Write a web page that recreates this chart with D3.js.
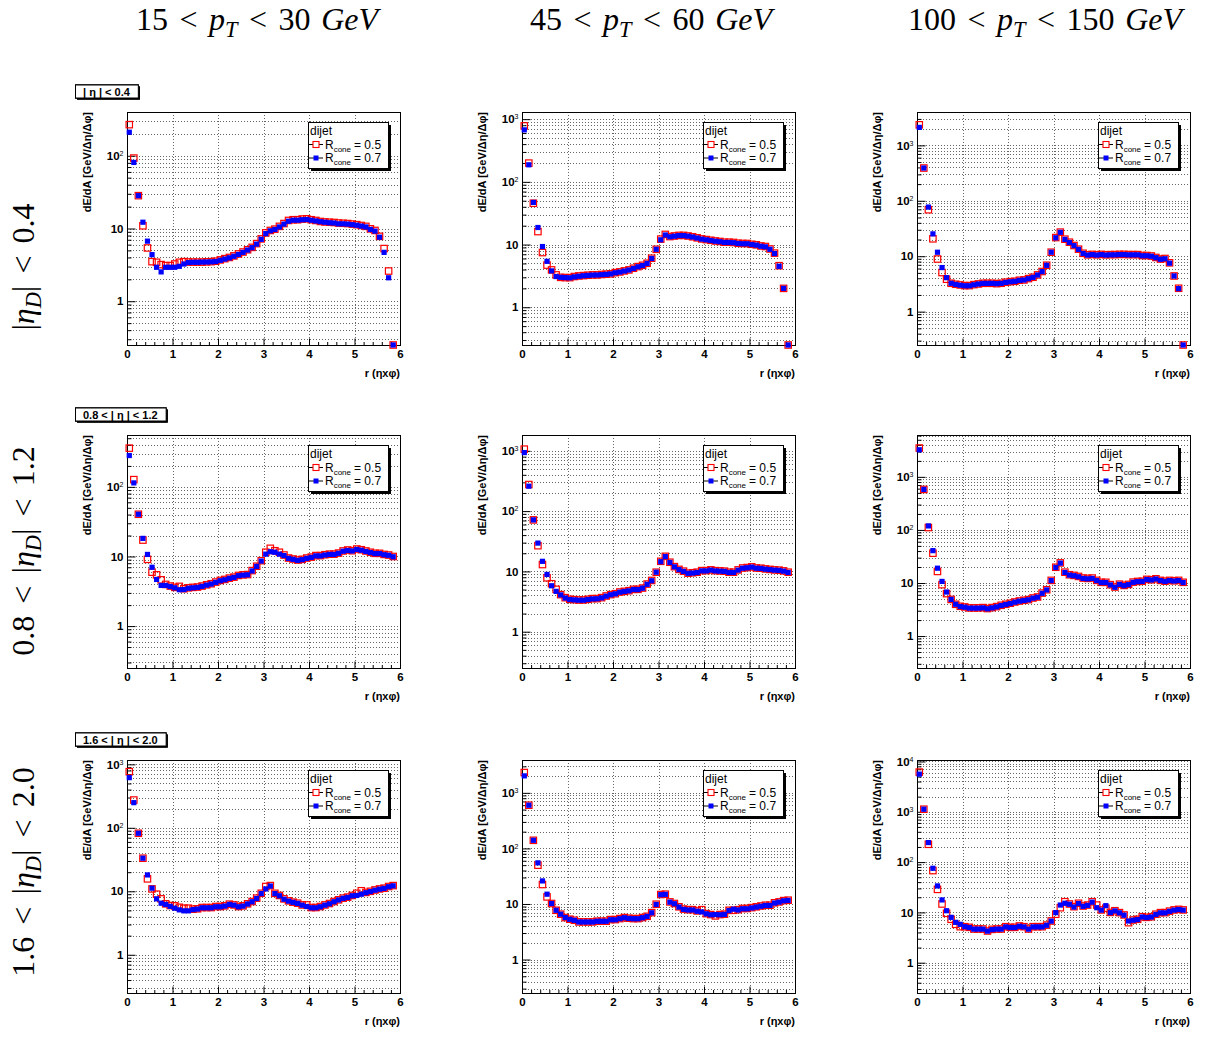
<!DOCTYPE html>
<html><head><meta charset="utf-8">
<script src="https://cdn.jsdelivr.net/npm/d3@7"></script>
<style>body{margin:0;background:#fff}svg{display:block}</style>
</head><body><svg id="c" width="1221" height="1037"></svg>
<script>
// ---------------- DATA ----------------
const rCenters = [0.05,0.15,0.25,0.35,0.45,0.55,0.65,0.75,0.85,0.95,
 1.05,1.15,1.25,1.35,1.45,1.55,1.65,1.75,1.85,1.95,
 2.05,2.15,2.25,2.35,2.45,2.55,2.65,2.75,2.85,2.95,
 3.05,3.15,3.25,3.35,3.45,3.55,3.65,3.75,3.85,3.95,
 4.05,4.15,4.25,4.35,4.45,4.55,4.65,4.75,4.85,4.95,
 5.05,5.15,5.25,5.35,5.45,5.55,5.65,5.75,5.85];
const ptLow = ["15","45","100"];
const ptHigh = ["30","60","150"];
const etaLow = [null,"0.8","1.6"];
const etaHigh = ["0.4","1.2","2.0"];
const coneSizes = ["0.5","0.7"];
const legendHeader = "dijet";
const xTickValues = [0,1,2,3,4,5,6];
const yAxisMin = 0.25;
const yAxisMax = [[400,1300,4000],[556,1830,6150],[1170,3900,10700]];

// R=0.5 (red) and R=0.7 (blue), rows = eta bins, cols = pT bins
const red_pt15_eta04 = [268,93,28.3,10.9,5.4,3.5,3.43,3.19,3.09,3.09,
 3.25,3.43,3.5,3.46,3.45,3.45,3.45,3.48,3.5,3.55,
 3.7,3.85,4.0,4.2,4.47,4.75,5.1,5.5,6.2,7.2,
 8.7,9.4,9.8,10.7,11.7,12.9,13.2,13.2,13.5,13.6,
 13.2,12.9,12.5,12.3,12.2,12.1,11.9,11.8,11.7,11.5,
 11.3,11.0,10.7,9.9,9.4,7.8,5.3,2.6,0.25];
const blue_pt15_eta04 = [211,81,28.3,12.2,6.7,4.37,2.93,2.53,2.93,2.93,
 2.93,3.02,3.25,3.4,3.43,3.43,3.45,3.46,3.48,3.52,
 3.65,3.8,3.95,4.15,4.4,4.7,5.05,5.45,6.1,7.1,
 8.5,9.3,9.7,10.5,11.5,12.6,13.0,13.0,13.2,13.3,
 13.0,12.7,12.4,12.2,12.0,11.9,11.6,11.6,11.5,11.3,
 11.1,10.8,10.5,9.7,9.2,7.6,4.7,2.1,0.25];
const red_pt45_eta04 = [780,199,45.6,16.1,7.45,4.7,3.94,3.28,3.0,2.97,
 2.97,3.09,3.16,3.2,3.24,3.28,3.28,3.33,3.37,3.41,
 3.57,3.66,3.8,3.94,4.19,4.45,4.67,5.03,6.05,8.4,
 12.2,14.5,13.4,13.7,14.0,14.0,13.7,13.3,12.8,12.3,
 12.0,11.7,11.4,11.2,10.9,10.9,10.8,10.5,10.4,10.4,
 10.1,9.9,9.5,9.3,8.5,7.3,4.6,2.0,0.25];
const blue_pt45_eta04 = [675,187,47,18.7,9.3,5.4,3.8,3.09,3.0,2.97,
 2.95,3.05,3.12,3.18,3.22,3.26,3.27,3.31,3.35,3.4,
 3.55,3.64,3.78,3.92,4.15,4.42,4.63,5.0,6.0,8.4,
 11.9,14.2,13.3,13.6,13.9,13.9,13.6,13.2,12.7,12.2,
 11.9,11.6,11.3,11.1,10.8,10.8,10.7,10.4,10.3,10.3,
 10.0,9.8,9.4,9.2,8.4,7.2,4.5,2.0,0.25];
const red_pt100_eta04 = [2350,390,69,20.6,8.9,5.07,3.84,3.25,3.12,3.03,
 2.95,2.95,3.07,3.16,3.25,3.25,3.25,3.2,3.25,3.39,
 3.48,3.53,3.68,3.73,3.95,4.17,4.6,5.3,6.87,11.8,
 21.7,27.2,20.3,17.9,15.6,13.4,11.3,10.6,10.8,10.6,
 10.8,10.6,10.7,10.7,10.8,10.8,10.7,10.7,10.7,10.3,
 10.3,10.1,9.5,8.9,9.1,7.6,4.4,2.64,0.25];
const blue_pt100_eta04 = [2110,390,77,25.3,11.8,6.24,4.1,3.25,3.1,3.0,
 2.93,2.93,3.05,3.15,3.23,3.23,3.24,3.2,3.24,3.37,
 3.46,3.52,3.66,3.72,3.93,4.15,4.58,5.28,6.85,11.8,
 21.5,27.0,20.1,17.7,15.5,13.3,11.2,10.5,10.7,10.5,
 10.7,10.5,10.6,10.6,10.7,10.7,10.6,10.6,10.6,10.2,
 10.2,10.0,9.4,8.8,9.0,7.5,4.4,2.6,0.25];
const red_pt15_eta12 = [360,127,40.4,17.2,9.1,5.95,5.45,4.62,3.97,3.76,
 3.6,3.72,3.44,3.55,3.6,3.64,3.76,3.92,4.06,4.29,
 4.53,4.68,4.89,5.05,5.34,5.45,5.5,6.27,7.24,8.7,
 11.5,13.1,12.1,11.5,10.5,9.5,9.2,8.9,9.1,9.5,
 9.8,10.3,10.3,10.6,10.8,10.8,11.2,12.0,12.4,12.1,
 12.8,12.5,12.0,11.5,11.1,11.1,10.7,10.5,10.0];
const blue_pt15_eta12 = [282,114,40.4,18.2,10.7,7.0,4.68,3.84,3.84,3.7,
 3.55,3.33,3.35,3.5,3.55,3.6,3.72,3.88,4.02,4.25,
 4.48,4.63,4.85,5.0,5.3,5.4,5.45,6.2,7.2,8.6,
 10.8,11.7,11.5,10.8,10.3,9.4,9.1,8.8,9.0,9.4,
 9.7,10.2,10.2,10.5,10.7,10.7,11.1,11.9,12.2,12.0,
 12.6,12.3,11.8,11.4,11.0,11.0,10.6,10.4,9.9];
const red_pt45_eta12 = [1066,276,71.5,26.7,13.0,7.84,6.24,5.04,4.12,3.67,
 3.45,3.4,3.36,3.36,3.45,3.54,3.54,3.67,3.91,4.12,
 4.27,4.55,4.67,4.79,5.04,5.04,5.3,6.17,7.08,9.7,
 14.7,17.8,14.2,12.0,10.8,10.1,9.36,9.5,9.7,10.3,
 10.3,10.6,10.3,10.2,10.1,9.7,9.7,10.6,11.4,11.6,
 11.9,11.4,11.3,11.0,10.8,10.6,10.5,10.2,9.7];
const blue_pt45_eta12 = [935,259,71.5,29.5,14.7,8.9,5.78,4.67,4.08,3.62,
 3.42,3.37,3.33,3.33,3.42,3.5,3.52,3.64,3.88,4.1,
 4.25,4.52,4.65,4.76,5.0,5.0,5.27,6.1,7.0,9.7,
 14.5,17.6,14.1,11.9,10.7,10.0,9.3,9.4,9.6,10.2,
 10.2,10.5,10.2,10.1,10.0,9.6,9.6,10.5,11.3,11.5,
 11.8,11.3,11.2,10.9,10.7,10.5,10.4,10.1,9.6];
const red_pt100_eta12 = [3490,580,111,36.4,16.5,9.3,6.3,4.9,3.97,3.64,
 3.54,3.39,3.39,3.39,3.44,3.3,3.44,3.59,3.8,3.97,
 4.15,4.39,4.58,4.72,4.86,5.22,5.45,6.46,7.46,11.2,
 19.8,23.9,16.0,14.3,13.9,13.3,12.4,12.2,12.4,11.2,
 10.3,10.3,9.3,8.4,9.5,9.0,9.4,10.4,10.7,10.8,
 11.7,11.5,12.0,11.2,10.8,11.2,11.0,11.2,10.3];
const blue_pt100_eta12 = [3240,580,119,40.7,19.0,10.7,6.75,4.9,3.97,3.6,
 3.5,3.36,3.36,3.36,3.4,3.27,3.4,3.55,3.76,3.93,
 4.1,4.35,4.54,4.68,4.82,5.18,5.4,6.4,7.4,11.1,
 19.6,23.7,15.8,14.1,13.7,13.1,12.2,12.0,12.2,11.1,
 10.2,10.2,9.2,8.3,9.4,8.9,9.3,10.3,10.6,10.7,
 11.6,11.4,11.9,11.1,10.7,11.1,10.9,11.1,10.2];
const red_pt15_eta20 = [766,274,82,33.2,15.7,10.9,9.0,7.6,6.35,5.97,
 5.9,5.6,5.42,5.42,5.23,5.3,5.55,5.55,5.55,5.76,
 5.76,5.9,6.27,6.1,5.76,5.9,6.35,6.9,7.8,9.3,
 11.9,12.3,9.3,8.6,7.6,7.07,6.74,6.5,6.1,6.1,
 5.55,5.55,5.76,6.1,6.42,6.9,7.34,7.8,8.1,8.6,
 9.3,10.2,9.6,10.0,10.5,10.9,11.2,11.9,12.3];
const blue_pt15_eta20 = [617,249,82,33.2,18.1,11.2,7.6,6.5,6.2,5.8,
 5.42,5.1,4.92,4.92,5.15,5.25,5.5,5.5,5.5,5.7,
 5.7,5.85,6.2,6.05,5.7,5.85,6.3,6.85,7.7,9.2,
 10.9,12.1,9.2,8.5,7.5,7.0,6.7,6.45,6.05,5.76,
 5.5,5.5,5.7,6.05,6.35,6.85,7.3,7.75,8.0,8.5,
 8.6,9.0,9.5,9.9,10.4,10.8,11.1,11.8,12.2];
const red_pt45_eta20 = [2320,599,140,49.9,22.4,13.4,10.2,7.7,6.55,5.7,
 5.32,5.1,4.76,4.76,4.76,4.76,4.9,4.9,4.9,5.24,
 5.24,5.46,5.7,5.54,5.46,5.46,5.7,6.0,7.0,9.9,
 14.8,15.0,10.9,10.2,8.9,8.1,7.9,7.9,7.5,7.9,
 6.7,6.45,6.1,6.45,6.55,7.7,7.7,7.9,8.3,8.3,
 8.6,8.9,9.2,9.5,9.5,10.5,10.9,11.5,11.7];
const blue_pt45_eta20 = [2020,599,140,55,26,15,10.2,7.7,6.55,5.7,
 5.3,5.08,4.74,4.74,4.74,4.74,4.88,4.88,4.88,5.2,
 5.2,5.43,5.66,5.5,5.43,5.43,5.66,5.97,6.95,9.8,
 14.7,14.9,10.8,10.1,8.8,8.0,7.8,7.8,7.4,7.2,
 6.65,6.4,6.45,6.4,6.5,7.6,8.05,7.8,8.2,8.2,
 8.5,8.8,9.1,9.4,9.4,10.4,10.8,11.4,11.6];
const red_pt100_eta20 = [6150,1125,226,67.8,28.7,14.7,9.6,7.3,5.8,5.2,
 5.2,5.05,4.68,4.68,4.68,4.27,4.6,4.68,4.68,5.2,
 5.05,5.05,5.37,5.2,4.68,5.2,5.2,5.2,5.6,6.75,
 9.2,12.4,16.3,14.7,13.0,15.2,13.4,14.0,16.3,14.0,
 11.2,12.1,10.0,10.8,9.9,8.9,6.25,7.07,7.3,8.2,
 7.98,8.2,9.2,9.9,9.9,10.6,11.2,11.5,11.2];
const blue_pt100_eta20 = [5600,1125,244,75.4,33.6,17.7,10.8,7.98,6.35,5.8,
 5.2,5.0,4.65,4.65,4.65,4.25,4.55,4.65,4.65,5.15,
 5.0,5.0,5.3,5.15,4.65,5.15,5.15,5.15,5.55,6.7,
 9.9,14.0,15.2,14.5,12.8,15.0,13.2,13.8,16.0,12.4,
 11.1,13.6,9.9,10.7,9.8,8.8,6.75,7.0,7.2,8.1,
 7.9,8.1,9.1,9.8,9.8,10.5,11.1,11.4,11.1];

const panelSeries = [
 [[red_pt15_eta04, blue_pt15_eta04],[red_pt45_eta04, blue_pt45_eta04],[red_pt100_eta04, blue_pt100_eta04]],
 [[red_pt15_eta12, blue_pt15_eta12],[red_pt45_eta12, blue_pt45_eta12],[red_pt100_eta12, blue_pt100_eta12]],
 [[red_pt15_eta20, blue_pt15_eta20],[red_pt45_eta20, blue_pt45_eta20],[red_pt100_eta20, blue_pt100_eta20]]
];

// ---------------- LAYOUT / STYLE ----------------
const colLeft = [127, 522, 917];
const rowTop = [112, 435, 760];
const FW = 273, FH = 233;
const sans = "'Liberation Sans', Arial, Helvetica, sans-serif";
const serif = "'Liberation Serif', 'Times New Roman', serif";
const colors = ["#ff0000", "#0000ff"];
const headerCX = [257, 651, 1045];
const rowLabelCY = [267, 551, 872];

const svg = d3.select("#c");
svg.append("rect").attr("width",1221).attr("height",1037).attr("fill","#fff");

// math-like text builder
function mathText(parent, size, parts, gapF) {
  const t = parent.append("text").attr("font-family", serif).attr("font-size", size)
    .attr("text-anchor", "middle").attr("fill", "#000");
  let pendingDx = 0, subShift = 0;
  parts.forEach(p => {
    const ts = t.append("tspan").text(p.t);
    let dx = pendingDx; pendingDx = 0;
    if (p.gap) { dx += size * gapF; pendingDx = size * gapF; }
    if (p.space) dx += size * 0.33;
    if (dx) ts.attr("dx", dx);
    if (p.it) ts.attr("font-style", "italic");
    if (p.sub) { ts.attr("font-size", size * 0.7).attr("dy", size * 0.22); subShift = size * 0.22; }
    else if (subShift) { ts.attr("dy", -subShift); subShift = 0; }
  });
  return t;
}

// column headers
ptLow.forEach((lo, j) => {
  mathText(svg, 32, [{t:lo},{t:"<",gap:true},{t:"p",it:true},{t:"T",it:true,sub:true},
    {t:"<",gap:true},{t:ptHigh[j]},{t:"GeV",it:true,space:true}], 0.36)
    .attr("x", headerCX[j]).attr("y", 30);
});
// row labels
etaHigh.forEach((hi, i) => {
  const parts = [];
  if (etaLow[i]) parts.push({t:etaLow[i]},{t:"<",gap:true});
  parts.push({t:"|"},{t:"η",it:true},{t:"D",it:true,sub:true},{t:"|"},{t:"<",gap:true},{t:hi});
  mathText(svg, 32, parts, 0.38).attr("transform", `translate(34,${rowLabelCY[i]}) rotate(-90)`);
});

// log tick values inside a domain
function logTicks(lo, hi) {
  const out = [];
  for (let e = -2; e <= 5; e++) for (let m = 1; m <= 9; m++) {
    const v = m * Math.pow(10, e);
    if (v > lo * 1.0001 && v < hi * 0.9999) out.push({v, major: m === 1});
  }
  return out;
}

for (let i = 0; i < 3; i++) for (let j = 0; j < 3; j++) {
  const L = colLeft[j], T = rowTop[i];
  const g = svg.append("g");
  const x = d3.scaleLinear().domain([0, 6]).range([L, L + FW]);
  const y = d3.scaleLog().domain([yAxisMin, yAxisMax[i][j]]).range([T + FH, T]);
  const lt = logTicks(yAxisMin, yAxisMax[i][j]);

  // grid
  const grid = g.append("g").attr("stroke", "#666").attr("stroke-width", 1)
    .attr("stroke-dasharray", "1,2").attr("shape-rendering", "crispEdges");
  grid.selectAll("line.h").data(lt).join("line")
    .attr("x1", L).attr("x2", L + FW)
    .attr("y1", d => Math.round(y(d.v)) + 0.5).attr("y2", d => Math.round(y(d.v)) + 0.5);
  grid.selectAll("line.v").data(xTickValues.slice(1, -1)).join("line")
    .attr("y1", T).attr("y2", T + FH)
    .attr("x1", d => Math.round(x(d)) + 0.5).attr("x2", d => Math.round(x(d)) + 0.5);

  // frame
  g.append("rect").attr("x", L + 0.5).attr("y", T + 0.5).attr("width", FW).attr("height", FH)
    .attr("fill", "none").attr("stroke", "#000").attr("stroke-width", 1);

  // x axis
  const xa = g.append("g").attr("transform", `translate(0,${T + FH + 0.5})`)
    .call(d3.axisBottom(x).tickValues(xTickValues).tickSizeInner(-7).tickSizeOuter(0)
      .tickPadding(4).tickFormat(d3.format("d")));
  const xm = g.append("g").attr("transform", `translate(0,${T + FH + 0.5})`)
    .call(d3.axisBottom(x).tickValues(d3.range(0.2, 6, 0.2).filter(v => Math.abs(v - Math.round(v)) > 0.01))
      .tickSize(-3.5).tickFormat(""));
  // y axis
  const majors = lt.filter(d => d.major).map(d => d.v);
  const minors = lt.filter(d => !d.major).map(d => d.v);
  const ya = g.append("g").attr("transform", `translate(${L + 0.5},0)`)
    .call(d3.axisLeft(y).tickValues(majors).tickSizeInner(-8).tickSizeOuter(0).tickPadding(4)
      .tickFormat(d => d <= 10 ? String(Math.round(d)) : "10"));
  const ym = g.append("g").attr("transform", `translate(${L + 0.5},0)`)
    .call(d3.axisLeft(y).tickValues(minors).tickSize(-4).tickFormat(""));
  [xa, xm, ya, ym].forEach(a => {
    a.select(".domain").remove();
    a.attr("font-family", sans).attr("font-size", 11.5).attr("font-weight", "bold");
    a.selectAll("line").attr("stroke", "#000");
  });
  ya.selectAll("text").each(function(d) {
    if (d > 10) {
      d3.select(this).append("tspan").attr("dy", "-0.55em").attr("font-size", 7)
        .attr("font-weight", "normal").text(Math.round(Math.log10(d)));
    }
  });

  // axis titles
  g.append("text").attr("transform", `translate(${L - 36},${T}) rotate(-90)`)
    .attr("text-anchor", "end").attr("font-family", sans).attr("font-size", 11)
    .attr("font-weight", "bold").text("dE/dA [GeV/Δη/Δφ]");
  g.append("text").attr("x", L + FW).attr("y", T + FH + 32).attr("text-anchor", "end")
    .attr("font-family", sans).attr("font-size", 11).attr("font-weight", "bold")
    .text("r (ηxφ)");

  // markers
  const [redV, blueV] = panelSeries[i][j];
  const mk = g.append("g");
  mk.selectAll("rect.r").data(redV).join("rect")
    .attr("x", (d, k) => x(rCenters[k]) - 3.2).attr("y", d => y(d) - 3.2)
    .attr("width", 6.4).attr("height", 6.4).attr("fill", "none")
    .attr("stroke", colors[0]).attr("stroke-width", 1.2);
  mk.selectAll("rect.b").data(blueV).join("rect")
    .attr("x", (d, k) => x(rCenters[k]) - 2.6).attr("y", d => y(d) - 2.6)
    .attr("width", 5.2).attr("height", 5.2).attr("fill", colors[1]);

  // title pave
  const title = (etaLow[i] ? etaLow[i] + " < " : "") + "| η | < " + etaHigh[i];
  const pg = g.append("g");
  const tt = pg.append("text").attr("font-family", sans).attr("font-size", 11)
    .attr("font-weight", "bold").attr("text-anchor", "middle").text(title);
  const tw = tt.node().getComputedTextLength() + 16;
  const bx = 75, by = T - 27.5;
  pg.insert("rect", "text").attr("x", bx + 2).attr("y", by + 2).attr("width", tw).attr("height", 13).attr("fill", "#000");
  pg.insert("rect", "text").attr("x", bx + 0.5).attr("y", by + 0.5).attr("width", tw).attr("height", 13)
    .attr("fill", "#fff").attr("stroke", "#000").attr("stroke-width", 1);
  tt.attr("x", bx + tw / 2).attr("y", by + 11);

  // legend
  const lx = L + FW - 92, ly = T + 10, lw = 80, lh = 46;
  const lg = g.append("g");
  lg.append("rect").attr("x", lx + 3).attr("y", ly + 3).attr("width", lw).attr("height", lh).attr("fill", "#000");
  lg.append("rect").attr("x", lx + 0.5).attr("y", ly + 0.5).attr("width", lw).attr("height", lh)
    .attr("fill", "#fff").attr("stroke", "#000");
  lg.append("text").attr("x", lx + 2).attr("y", ly + 13).attr("font-family", sans).attr("font-size", 12)
    .text(legendHeader);
  coneSizes.forEach((c, s) => {
    const cy = ly + 22.5 + s * 13.5;
    lg.append("line").attr("x1", lx + 1).attr("x2", lx + 15).attr("y1", cy).attr("y2", cy).attr("stroke", "#000");
    if (s === 0) lg.append("rect").attr("x", lx + 5).attr("y", cy - 3).attr("width", 6).attr("height", 6)
      .attr("fill", "#fff").attr("stroke", colors[0]).attr("stroke-width", 1.1);
    else lg.append("rect").attr("x", lx + 5.5).attr("y", cy - 2.5).attr("width", 5).attr("height", 5).attr("fill", colors[1]);
    const t = lg.append("text").attr("x", lx + 17).attr("y", cy + 4).attr("font-family", sans).attr("font-size", 12);
    t.append("tspan").text("R");
    t.append("tspan").attr("font-size", 8).attr("dy", 3).text("cone");
    t.append("tspan").attr("dy", -3).attr("dx", 3).text("= " + c);
  });
}
</script></body></html>
